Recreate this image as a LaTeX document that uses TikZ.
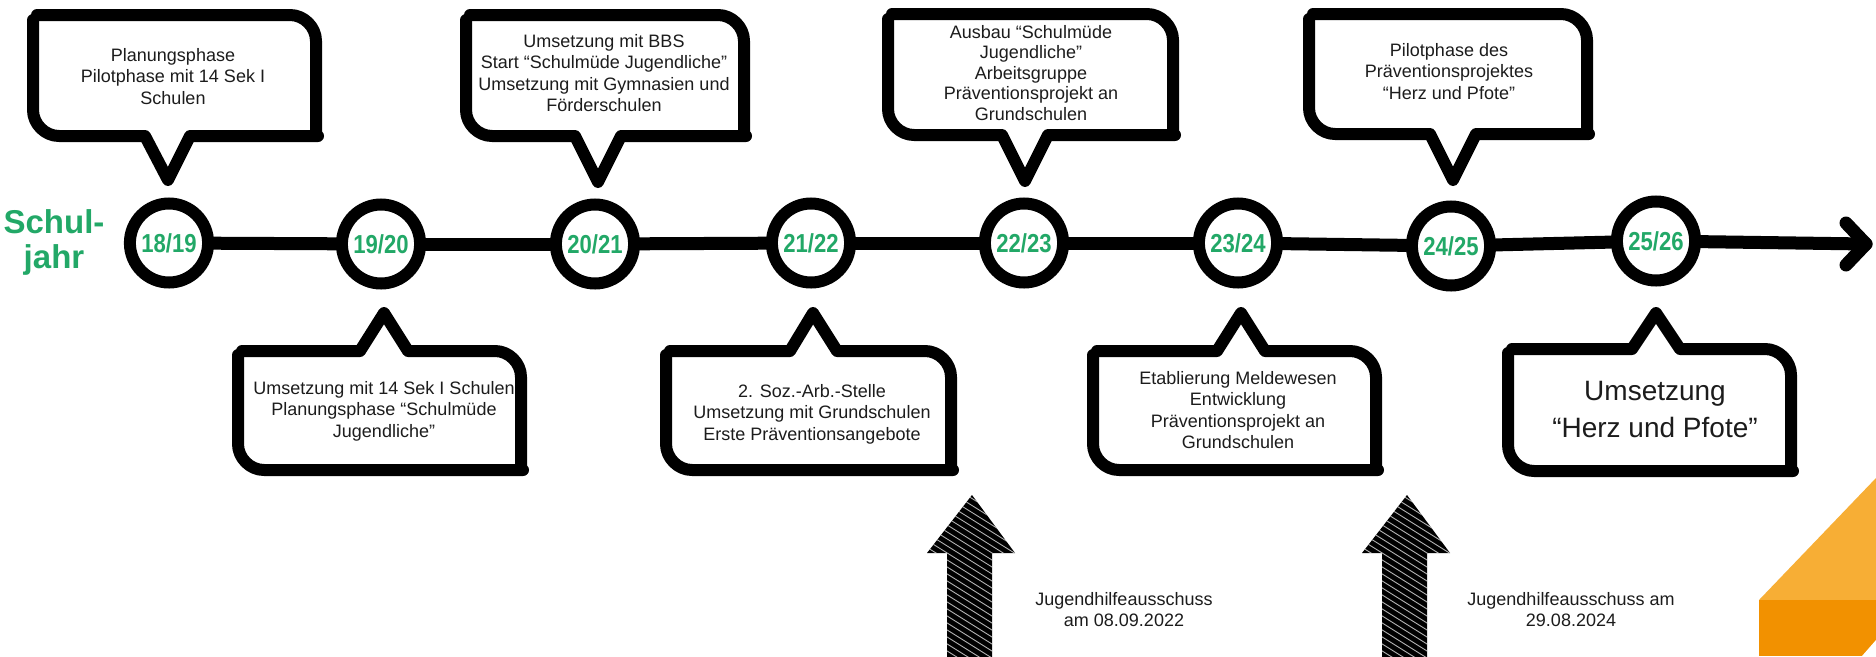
\documentclass[tikz,border=0pt]{standalone}
\usepackage{fontspec}
\setmainfont{Liberation Sans}
\newfontfamily\yearfont{Liberation Sans}[FakeStretch=0.85]
\usetikzlibrary{calc,shapes.geometric}
\definecolor{sjgreen}{RGB}{34,168,103}
\definecolor{txtgray}{RGB}{28,28,28}
\definecolor{olight}{RGB}{247,174,53}
\definecolor{odark}{RGB}{242,145,0}
\tikzset{
  bub/.style={draw=black, line width=12pt, line cap=round, line join=round},
  tline/.style={draw=black, line width=13pt, line cap=round, line join=round},
  yearc/.style={ellipse, draw=black, line width=12pt, minimum width=71pt, minimum height=79pt, inner sep=0pt,
    text=sjgreen, font={\yearfont\fontsize{26}{26}\selectfont\bfseries}},
  btxt/.style={anchor=north, align=center, inner sep=0pt, text=txtgray,
    font={\fontsize{18}{21.5}\selectfont}},
  sjtxt/.style={anchor=base, inner sep=0pt, text=sjgreen,
    font={\fontsize{33}{33}\selectfont\bfseries}},
}
% bubble with pointer at the bottom: L R T B p1 p2 tipx tipy
\newcommand\tbub[8]{%
  \draw[bub] (#1,#3+5) -- (#1,#4-26) .. controls (#1,#4-12) and (#1+12,#4) .. (#1+26,#4) -- (#5,#4) -- (#7,#8) -- (#6,#4) -- (#2+2,#4);
  \draw[bub] (#2,#4-3) -- (#2,#3+26) .. controls (#2,#3+12) and (#2-12,#3) .. (#2-26,#3) -- (#1+4,#3);
}
% bubble with pointer at the top
\newcommand\bbub[8]{%
  \draw[bub] (#1,#3+4) -- (#1,#4-26) .. controls (#1,#4-12) and (#1+12,#4) .. (#1+26,#4) -- (#2+2,#4);
  \draw[bub] (#2,#4-3) -- (#2,#3+26) .. controls (#2,#3+12) and (#2-12,#3) .. (#2-26,#3) -- (#6,#3) -- (#7,#8) -- (#5,#3) -- (#1+4,#3);
}
% sketched up arrow, tip x
\newcommand\hatcharrow[1]{%
  \fill[black] (#1,495) -- (#1+43,553) -- (#1+20,553) -- (#1+20,660) -- (#1-25,660) -- (#1-25,553) -- (#1-45,553) -- cycle;
  \begin{scope}
    \clip (#1,495) -- (#1+43,553) -- (#1+20,553) -- (#1+20,660) -- (#1-25,660) -- (#1-25,553) -- (#1-45,553) -- cycle;
    \foreach \k in {0,...,32} {
      \draw[white, line width=0.9pt, opacity=0.7] (#1-60,440+\k*7) -- (#1+60,440+\k*7+75);
    }
  \end{scope}
}
\begin{document}
\begin{tikzpicture}[x=1pt,y=-1pt]
\useasboundingbox[fill=white] (0,0) rectangle (1876,656);

% orange corner
\fill[olight] (1876,478) -- (1759,600) -- (1876,600) -- cycle;
\fill[odark] (1759,600) rectangle (1876,656);
\fill[white] (1862,656) -- (1876,640) -- (1876,656) -- cycle;

% label
\node[sjtxt] (sj1) at (54,233) {Schul-};
\node[sjtxt] (sj2) at (54,268) {jahr};

% year circles
\node[yearc] (c1) at (169,243) {18/19};
\node[yearc] (c2) at (381,244) {19/20};
\node[yearc] (c3) at (595,244) {20/21};
\node[yearc] (c4) at (811,243) {21/22};
\node[yearc] (c5) at (1024,243) {22/23};
\node[yearc] (c6) at (1238,243) {23/24};
\node[yearc] (c7) at (1451,246) {24/25};
\node[yearc] (c8) at (1656,241) {25/26};
\coordinate (tend) at (1866,244);

% timeline
\draw[tline] (c1) -- (c2);
\draw[tline] (c2) -- (c3);
\draw[tline] (c3) -- (c4);
\draw[tline] (c4) -- (c5);
\draw[tline] (c5) -- (c6);
\draw[tline] (c6) -- (c7);
\draw[tline] (c7) -- (c8);
\draw[tline] (c8) -- (tend);
\draw[tline] (1846,223) -- (tend) -- (1846,265);

% top bubbles
\tbub{33}{316}{15}{136}{145}{190}{168}{180}
\tbub{466}{744}{15}{136}{575}{621}{598}{182}
\tbub{888}{1173}{14}{135}{1002}{1048}{1025}{181}
\tbub{1309}{1587}{14}{134}{1430}{1476}{1453}{180}

% bottom bubbles
\bbub{238}{521}{351}{470}{360}{408}{384}{313}
\bbub{666}{951}{351}{470}{790}{837}{813}{313}
\bbub{1093}{1376}{351}{470}{1217}{1265}{1241}{313}
\bbub{1508}{1791}{349}{471}{1632}{1680}{1656}{313}

% texts
\node[btxt] (t1) at (173,48) {Planungsphase\\Pilotphase mit 14 Sek I\\Schulen};
\node[btxt] (t2) at (604,34) {Umsetzung mit BBS\\Start “Schulmüde Jugendliche”\\Umsetzung mit Gymnasien und\\Förderschulen};
\node[btxt, font={\fontsize{18}{20.5}\selectfont}] (t3) at (1031,25) {Ausbau “Schulmüde\\Jugendliche”\\Arbeitsgruppe\\Präventionsprojekt an\\Grundschulen};
\node[btxt] (t4) at (1449,43) {Pilotphase des\\Präventionsprojektes\\“Herz und Pfote”};
\node[btxt] (t5) at (384,381) {Umsetzung mit 14 Sek I Schulen\\Planungsphase “Schulmüde\\Jugendliche”};
\node[btxt] (t6) at (812,384) {2. Soz.-Arb.-Stelle\\Umsetzung mit Grundschulen\\Erste Präventionsangebote};
\node[btxt] (t7) at (1238,371) {Etablierung Meldewesen\\Entwicklung\\Präventionsprojekt an\\Grundschulen};
\node[btxt, font={\fontsize{28}{37}\selectfont}] (t8) at (1655,381) {Umsetzung\\“Herz und Pfote”};

% committee arrows
\hatcharrow{972}
\hatcharrow{1407}
\node[btxt] (j1) at (1124,592) {Jugendhilfeausschuss\\am 08.09.2022};
\node[btxt] (j2) at (1571,592) {Jugendhilfeausschuss am\\29.08.2024};
\end{tikzpicture}
\end{document}
